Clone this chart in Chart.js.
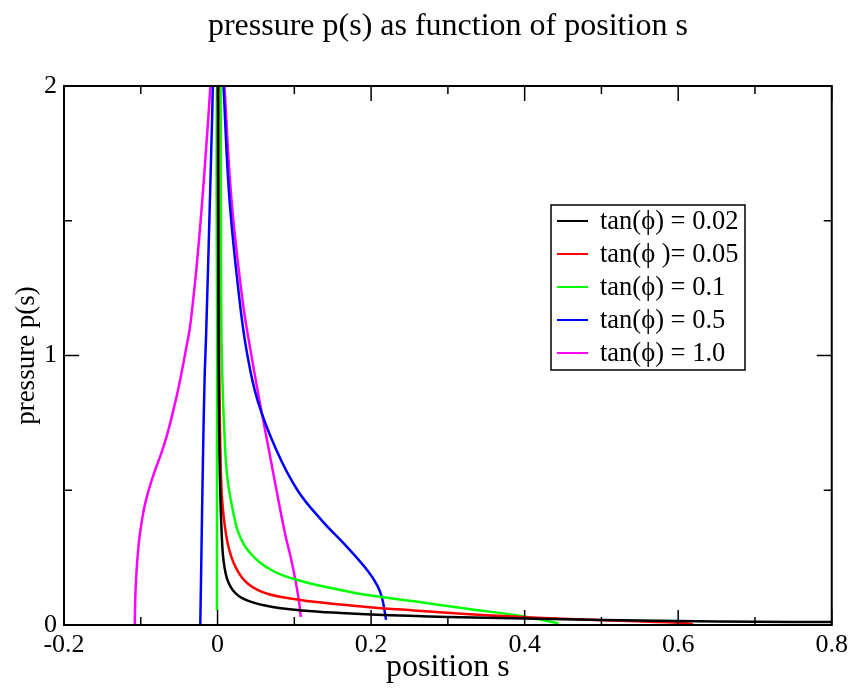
<!DOCTYPE html>
<html>
<head>
<meta charset="utf-8">
<script src="https://cdn.jsdelivr.net/npm/chart.js@4.4.1/dist/chart.umd.min.js"></script>
<style>
  html, body { margin: 0; padding: 0; background: #fff; }
</style>
</head>
<body>
<canvas id="c" width="853" height="688"></canvas>
<script>
const titleText = 'pressure p(s) as function of position s'
const xTitle = 'position s'
const yTitle = 'pressure p(s)'
const xTicks = [-0.2, 0, 0.2, 0.4, 0.6, 0.8]
const yTicks = [0, 1, 2]
const seriesLabels = ['tan(\u03D5) = 0.02', 'tan(\u03D5 )= 0.05', 'tan(\u03D5) = 0.1', 'tan(\u03D5) = 0.5', 'tan(\u03D5) = 1.0']
const seriesColors = ['#000000', '#ff0000', '#00ff00', '#0000ff', '#ff00ff']

// tan(phi) = 0.02
const s002 = [0.0005, 0.001, 0.002, 0.0035, 0.0055, 0.007, 0.009, 0.012, 0.016, 0.021, 0.028, 0.037, 0.048, 0.062, 0.08, 0.11, 0.15, 0.2, 0.25, 0.3, 0.4, 0.5, 0.6, 0.7, 0.8, 0.85]
const p002 = [2.1, 1.2, 0.75, 0.5, 0.33, 0.26, 0.215, 0.175, 0.147, 0.125, 0.107, 0.093, 0.082, 0.072, 0.063, 0.054, 0.046, 0.039, 0.034, 0.03, 0.024, 0.019, 0.015, 0.012, 0.011, 0.01]

// tan(phi) = 0.05
const s005 = [0.001, 0.0017, 0.003, 0.005, 0.007, 0.009, 0.013, 0.018, 0.024, 0.031, 0.04, 0.052, 0.066, 0.083, 0.126, 0.191, 0.256, 0.323, 0.401, 0.496, 0.6, 0.619]
const p005 = [2.1, 1.2, 0.76, 0.51, 0.43, 0.378, 0.305, 0.253, 0.212, 0.179, 0.152, 0.13, 0.115, 0.104, 0.086, 0.068, 0.054, 0.041, 0.029, 0.019, 0.0085, 0.003]

// tan(phi) = 0.1
const s01 = [-0.0008, -0.0006, -0.0004, 0.004, 0.004, 0.0045, 0.005, 0.007, 0.009, 0.011, 0.014, 0.018, 0.022, 0.026, 0.034, 0.044, 0.056, 0.07, 0.085, 0.104, 0.125, 0.148, 0.191, 0.256, 0.323, 0.401, 0.444]
const p01 = [0.055, 1.0, 2.1, 2.1, 1.99, 1.5, 1.095, 0.847, 0.71, 0.601, 0.52, 0.453, 0.398, 0.352, 0.3, 0.262, 0.23, 0.204, 0.184, 0.167, 0.151, 0.137, 0.113, 0.088, 0.061, 0.031, 0.006]

// tan(phi) = 0.5
const s05 = [-0.0225, -0.0212, -0.0191, -0.0169, -0.0147, -0.0104, -0.0069, -0.0061, -0.004, 0.006, 0.0078, 0.0156, 0.0286, 0.0377, 0.0519, 0.0766, 0.1039, 0.1351, 0.1688, 0.1948, 0.2078, 0.2143, 0.2195]
const p05 = [0, 0.229, 0.6, 0.909, 1.095, 1.529, 1.9, 1.998, 2.1, 2.1, 1.996, 1.577, 1.206, 1.02, 0.835, 0.649, 0.501, 0.39, 0.289, 0.204, 0.148, 0.1, 0.019]

// tan(phi) = 1.0
const s10 = [-0.1078, -0.1074, -0.1065, -0.1045, -0.1013, -0.0961, -0.0896, -0.0818, -0.074, -0.0662, -0.0584, -0.0506, -0.0442, -0.0403, -0.0364, -0.0325, -0.0277, -0.0212, -0.0147, -0.0095, -0.0084, 0.0072, 0.0091, 0.0182, 0.0325, 0.0429, 0.0545, 0.0669, 0.0792, 0.0883, 0.0961, 0.1026, 0.1058, 0.1084]
const p10 = [0, 0.074, 0.148, 0.241, 0.334, 0.427, 0.501, 0.571, 0.631, 0.701, 0.787, 0.883, 0.976, 1.035, 1.095, 1.187, 1.317, 1.529, 1.775, 1.997, 2.1, 2.1, 1.996, 1.577, 1.206, 1.02, 0.835, 0.649, 0.464, 0.334, 0.241, 0.148, 0.093, 0.03]

const seriesS = [s002, s005, s01, s05, s10]
const seriesP = [p002, p005, p01, p05, p10]

const FONT = "'Liberation Serif', 'DejaVu Serif', serif"

const toPoints = (xs, ys) => xs.map((x, i) => ({ x, y: ys[i] }))

const framePlugin = {
  id: 'frame',
  afterDatasetsDraw(chart) {
    const { ctx, chartArea: a } = chart
    const x = chart.scales.x
    const y = chart.scales.y
    ctx.save()
    ctx.strokeStyle = '#000'
    ctx.lineWidth = 1.5
    ctx.beginPath()
    // inward ticks on all four sides, minor at half steps
    for (let i = 0; i <= 10; i++) {
      const px = x.getPixelForValue(-0.2 + i * 0.1)
      const len = i % 2 === 0 ? 15 : 8
      ctx.moveTo(px, a.bottom); ctx.lineTo(px, a.bottom - len)
      ctx.moveTo(px, a.top); ctx.lineTo(px, a.top + len)
    }
    for (let i = 0; i <= 4; i++) {
      const py = y.getPixelForValue(i * 0.5)
      const len = i % 2 === 0 ? 15 : 8
      ctx.moveTo(a.left, py); ctx.lineTo(a.left + len, py)
      ctx.moveTo(a.right, py); ctx.lineTo(a.right - len, py)
    }
    ctx.stroke()
    ctx.lineWidth = 2
    ctx.strokeRect(a.left, a.top, a.right - a.left, a.bottom - a.top)

    // title
    ctx.fillStyle = '#000'
    ctx.font = '32px ' + FONT
    ctx.textAlign = 'center'
    ctx.textBaseline = 'alphabetic'
    ctx.fillText(titleText, (a.left + a.right) / 2, 35)

    // legend box
    const lx = a.left + 487
    const ly = a.top + 119
    ctx.fillStyle = '#fff'
    ctx.fillRect(lx, ly, 194, 165)
    ctx.lineWidth = 1.5
    ctx.strokeStyle = '#000'
    ctx.strokeRect(lx, ly, 194, 165)
    ctx.font = '26.5px ' + FONT
    ctx.textAlign = 'left'
    ctx.textBaseline = 'middle'
    seriesLabels.forEach((label, i) => {
      const ry = ly + 16 + i * 33
      ctx.strokeStyle = seriesColors[i]
      ctx.lineWidth = 2
      ctx.beginPath()
      ctx.moveTo(lx + 6, ry); ctx.lineTo(lx + 37, ry)
      ctx.stroke()
      ctx.fillStyle = '#000'
      ctx.fillText(label, lx + 49, ry + 1)
    })
    ctx.restore()
  }
}

function init() {
  const ctx = document.getElementById('c').getContext('2d')
  new Chart(ctx, {
    type: 'scatter',
    data: {
      datasets: seriesLabels.map((label, i) => ({
        label,
        data: toPoints(seriesS[i], seriesP[i]),
        showLine: true,
        borderColor: seriesColors[i],
        backgroundColor: seriesColors[i],
        borderWidth: 2.5,
        pointRadius: 0,
        tension: 0.4
      }))
    },
    options: {
      responsive: false,
      animation: false,
      layout: { padding: { left: 0, top: 86, right: 19, bottom: 0 } },
      plugins: {
        legend: { display: false },
        title: { display: false },
        tooltip: { enabled: false }
      },
      scales: {
        x: {
          type: 'linear',
          min: -0.2,
          max: 0.8,
          afterFit: (s) => { s.height = 63 },
          afterBuildTicks: (s) => { s.ticks = xTicks.map(v => ({ value: v })) },
          grid: { display: false, drawTicks: false },
          border: { display: false },
          ticks: {
            color: '#000',
            font: { family: FONT, size: 26 },
            padding: 5,
            maxRotation: 0,
            autoSkip: false,
            callback: (v) => String(Math.round(v * 10) / 10)
          },
          title: {
            display: true,
            text: xTitle,
            color: '#000',
            font: { family: FONT, size: 32 },
            padding: { top: 0, bottom: 1 }
          }
        },
        y: {
          type: 'linear',
          min: 0,
          max: 2,
          afterFit: (s) => { s.width = 64 },
          afterBuildTicks: (s) => { s.ticks = yTicks.map(v => ({ value: v })) },
          grid: { display: false, drawTicks: false },
          border: { display: false },
          ticks: {
            color: '#000',
            font: { family: FONT, size: 26 },
            padding: 7,
            autoSkip: false,
            callback: (v) => String(v)
          },
          title: {
            display: true,
            text: yTitle,
            color: '#000',
            font: { family: FONT, size: 27 },
            padding: { top: 11, bottom: 0 }
          }
        }
      }
    },
    plugins: [framePlugin]
  })
}

window.addEventListener('load', init)
</script>
</body>
</html>
